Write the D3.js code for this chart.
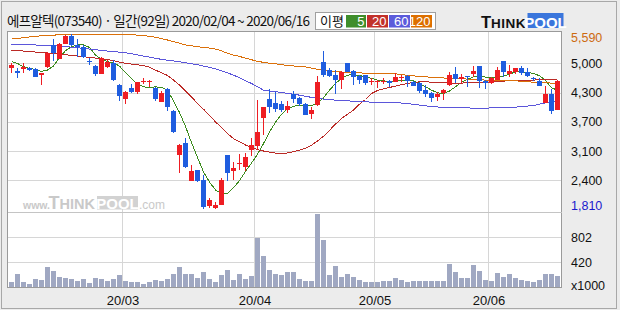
<!DOCTYPE html>
<html><head><meta charset="utf-8">
<script src="https://cdn.jsdelivr.net/npm/d3@7"></script>
<style>html,body{margin:0;padding:0;background:#ececec;}svg{display:block;}</style>
</head><body>
<svg id="c" width="620" height="310"></svg>
<script>
const dates = ["02-04","02-05","02-06","02-07","02-10","02-11","02-12","02-13","02-14","02-17","02-18","02-19","02-20","02-21","02-24","02-25","02-26","02-27","02-28",
"03-02","03-03","03-04","03-05","03-06","03-09","03-10","03-11","03-12","03-13","03-16","03-17","03-18","03-19","03-20","03-23","03-24","03-25","03-26","03-27","03-30","03-31",
"04-01","04-02","04-03","04-06","04-07","04-08","04-09","04-10","04-13","04-14","04-16","04-17","04-20","04-21","04-22","04-23","04-24","04-27","04-28","04-29",
"05-04","05-06","05-07","05-08","05-11","05-12","05-13","05-14","05-15","05-18","05-19","05-20","05-21","05-22","05-25","05-26","05-27","05-28","05-29",
"06-01","06-02","06-03","06-04","06-05","06-08","06-09","06-10","06-11","06-12","06-15","06-16"];
const open  = [4850,4790,4840,4860,4830,4710,4890,5360,5050,5380,5550,5360,5320,5020,4900,4740,4890,4970,4490,4190,4440,4340,4570,4570,4440,4130,4400,3940,2980,3240,2420,2650,2440,1880,1830,1910,2980,2640,2800,2730,3100,3170,3790,4200,4110,4080,3950,4300,4210,4080,3860,4060,4990,4820,4710,4600,4960,4800,4690,4700,4550,4550,4560,4580,4560,4640,4690,4560,4530,4380,4330,4240,4330,4490,4730,4630,4680,4740,4900,4590,4530,4610,5010,4740,4780,4860,4780,4640,4580,4110,4300,3950];
const high  = [4970,4870,4960,4890,4850,4760,5210,5480,5390,5570,5590,5480,5360,5070,4920,5100,5030,5030,4510,4360,4510,4560,4640,4600,4460,4360,4420,3950,3230,3340,2760,2670,2550,2060,1965,2480,2980,2830,3010,3030,3360,4170,4020,4400,4350,4150,4150,4360,4240,4100,4020,4690,5230,4870,4820,4790,4970,4820,4710,4720,4640,4610,4640,4600,4760,4720,4710,4590,4560,4490,4350,4350,4400,4770,4890,4730,4690,4900,4900,4610,4670,4890,5010,4920,4870,4900,4860,4670,4640,4470,4400,4600];
const low   = [4760,4640,4760,4790,4660,4500,4850,5020,5050,5380,5340,5090,5070,4920,4690,4730,4870,4590,4150,4080,4330,4310,4510,4460,4140,4120,3930,3450,2600,2710,2420,2400,1820,1850,1810,1900,2420,2450,2670,2640,2960,3090,3420,3890,3910,3920,3890,4110,4050,3840,3770,4040,4670,4660,4310,4410,4770,4490,4510,4500,4490,4440,4510,4460,4550,4560,4460,4470,4330,4240,4130,4150,4170,4470,4540,4530,4460,4670,4440,4410,4510,4600,4670,4670,4740,4710,4670,4590,4470,4100,3860,3950];
const close = [4930,4760,4880,4820,4670,4760,5190,5180,5380,5560,5360,5320,5100,5000,4730,5080,5000,4610,4260,4350,4340,4550,4580,4580,4190,4330,4020,3480,3190,2730,2630,2420,1860,2010,1900,2440,2600,2700,2820,2940,3190,3480,4010,4020,3970,3950,4050,4200,4080,3850,3950,4560,4710,4690,4600,4780,4780,4670,4600,4540,4570,4570,4580,4540,4660,4660,4590,4470,4360,4300,4220,4310,4380,4710,4620,4660,4660,4790,4590,4530,4640,4820,4770,4790,4870,4760,4690,4620,4480,4300,3940,4580];
const volume = [124,246,124,94,165,155,348,287,196,180,170,140,165,109,180,160,129,165,226,140,124,124,94,124,150,140,165,246,348,246,246,180,272,165,119,226,303,150,241,165,211,791,516,303,246,231,272,277,165,140,140,1158,761,226,364,196,246,196,150,119,119,119,140,140,180,150,119,134,134,134,134,134,134,394,272,180,180,379,287,150,134,257,196,241,180,150,134,119,150,241,241,211];
const ma5   = [5000,4960,4888,4852,4830,4787,4816,4902,5090,5234,5321,5357,5357,5306,5140,5047,4996,4974,4902,4758,4636,4513,4455,4441,4455,4441,4383,4150,3900,3600,3250,2930,2620,2400,2230,2150,2150,2280,2430,2630,2810,3000,3230,3480,3690,3860,3980,4037,4052,4052,4052,4095,4217,4383,4527,4636,4708,4715,4700,4672,4636,4600,4585,4570,4585,4592,4600,4585,4527,4455,4383,4326,4311,4365,4455,4549,4614,4670,4686,4665,4655,4672,4686,4725,4780,4780,4765,4744,4693,4600,4430,4385];
const ma20  = [5248,5237,5227,5216,5205,5194,5184,5173,5162,5148,5133,5119,5104,5090,5076,5061,5047,5018,4989,4960,4945,4931,4910,4881,4816,4758,4700,4600,4491,4362,4239,4095,3972,3842,3698,3576,3446,3338,3270,3200,3150,3100,3070,3045,3025,3013,3028,3056,3085,3129,3194,3287,3388,3518,3648,3770,3864,3951,4080,4181,4311,4376,4412,4441,4470,4499,4527,4549,4563,4563,4556,4549,4542,4535,4527,4535,4542,4542,4549,4549,4556,4563,4578,4585,4592,4592,4600,4600,4607,4614,4614,4600];
const ma60  = [5378,5373,5368,5362,5357,5352,5346,5340,5335,5322,5310,5297,5284,5270,5255,5241,5227,5215,5203,5191,5167,5143,5119,5095,5071,5047,5030,5013,4996,4975,4953,4931,4902,4874,4845,4800,4754,4708,4648,4588,4527,4455,4383,4366,4350,4333,4314,4294,4275,4251,4227,4203,4191,4179,4167,4160,4152,4145,4138,4131,4124,4124,4124,4124,4114,4105,4095,4078,4061,4044,4032,4020,4008,4006,4003,4001,3999,3996,3994,3996,3999,4001,4006,4011,4016,4028,4040,4052,4080,4109,4131,4153];
const ma120 = [5486,5500,5515,5530,5545,5555,5560,5570,5578,5582,5585,5587,5587,5587,5587,5587,5587,5587,5587,5587,5580,5570,5560,5545,5525,5495,5465,5430,5395,5360,5340,5320,5305,5290,5270,5230,5180,5140,5110,5075,5040,5000,4985,4965,4950,4935,4915,4905,4895,4885,4860,4830,4815,4800,4787,4775,4765,4760,4755,4750,4745,4744,4740,4738,4736,4720,4700,4690,4680,4672,4660,4650,4645,4640,4636,4630,4621,4615,4608,4600,4596,4592,4590,4588,4585,4575,4563,4556,4549,4542,4535,4527];
const priceMax = 5590, priceMin = 1810;
const priceGrid = [4960,4330,3700,3070,2440];
const priceGridLabels = ["5,000","4,300","3,700","3,100","2,400"];
const volGrid = [802,420];
const volGridLabels = ["802","420"];
const monthTicks = ["03-02","04-01","05-04","06-01"];
const monthLabels = ["20/03","20/04","20/05","20/06"];
const maNames = ["5","20","60","120"];
const title = "에프알텍(073540) · 일간(92일) 2020/02/04 ~ 2020/06/16";

const svg = d3.select("#c");
const UP="#ee1d23", DN="#1f5ddf", GRID="#d6d6d6";
const maColors=["#3b8b1d","#bb2a26","#5b56da","#db700a"];
const legColors=["#3f8e2b","#c2312b","#5b5bdb","#dd6f00"];
const F="'Liberation Sans', Arial, sans-serif";

svg.append("rect").attr("width",620).attr("height",310).attr("fill","#ececec");
svg.append("rect").attr("x",1.5).attr("y",1.5).attr("width",615).attr("height",307).attr("fill","none").attr("stroke","#a8a8a8");

const L=7.5,R=561.5,T=31.5,B=287.5,SEP=212.5;
svg.append("rect").attr("x",L).attr("y",T).attr("width",R-L).attr("height",B-T).attr("fill","#fff").attr("stroke","#9a9a9a");

const x = d3.scaleBand().domain(dates).range([9,561]).paddingInner(0).paddingOuter(0);
const y = d3.scaleLinear().domain([priceMin,priceMax]).range([209.4,34.2]);
const yv = d3.scaleLinear().domain([0,1184]).range([289.8,212.5]);
const bw = x.bandwidth()-1;

// grids
const g = svg.append("g").attr("stroke",GRID).attr("shape-rendering","crispEdges");
priceGrid.forEach(v=>{const yy=Math.round(y(v))+0.5; g.append("line").attr("x1",L+0.5).attr("x2",R-0.5).attr("y1",yy).attr("y2",yy);});
volGrid.forEach(v=>{const yy=Math.round(yv(v))+0.5; g.append("line").attr("x1",L+0.5).attr("x2",R-0.5).attr("y1",yy).attr("y2",yy);});
monthTicks.forEach(d=>{const xx=x(d)-0.5; g.append("line").attr("x1",xx).attr("x2",xx).attr("y1",T+0.5).attr("y2",B-0.5);});
svg.append("line").attr("x1",L).attr("x2",R).attr("y1",SEP).attr("y2",SEP).attr("stroke","#c4c4c4").attr("shape-rendering","crispEdges");

// watermark
const wm = svg.append("g").attr("fill","#c9c9c9").attr("font-family",F);
wm.append("text").attr("x",23).attr("y",209).attr("font-size",10.5).attr("font-weight","bold").text("www.");
const wt = wm.append("text").attr("x",48.5).attr("y",209).attr("font-weight","bold");
wt.append("tspan").attr("font-size",18).text("T");
wt.append("tspan").attr("font-size",14.5).text("HINK");
wm.append("rect").attr("x",97).attr("y",196).attr("width",41).attr("height",13.5).attr("fill","#d2d2d2");
wm.append("text").attr("x",117.5).attr("y",208.5).attr("text-anchor","middle").attr("font-size",15).attr("font-weight","bold").attr("fill","#fff").text("POOL");
wm.append("text").attr("x",139).attr("y",209).attr("font-size",12).text(".com");

// clip
svg.append("clipPath").attr("id","cp").append("rect").attr("x",8).attr("y",32).attr("width",553).attr("height",180);
const pg = svg.append("g").attr("clip-path","url(#cp)");

// moving averages
const idx = d3.range(dates.length);
[ma5,ma20,ma60,ma120].forEach((arr,k)=>{
  const line = d3.line().x(i=>x(dates[i])+2.5).y(i=>y(arr[i]));
  pg.append("path").attr("d",line(idx)).attr("fill","none").attr("stroke",maColors[k]).attr("stroke-width",1).attr("shape-rendering","crispEdges");
});

// candles
const cg = pg.append("g").attr("shape-rendering","crispEdges");
idx.forEach(i=>{
  const up = close[i]>=open[i];
  const col = up?UP:DN;
  const xl = x(dates[i]);
  const yh = Math.round(y(high[i])), yl = Math.round(y(low[i]));
  cg.append("rect").attr("x",xl+2).attr("y",yh).attr("width",1).attr("height",Math.max(1,yl-yh)).attr("fill",col);
  const yt = Math.round(y(Math.max(open[i],close[i]))), yb = Math.round(y(Math.min(open[i],close[i])));
  cg.append("rect").attr("x",xl).attr("y",yt).attr("width",bw).attr("height",Math.max(1,yb-yt)).attr("fill",col);
});

// volume
const vg = svg.append("g").attr("shape-rendering","crispEdges");
idx.forEach(i=>{
  const yy = Math.round(yv(volume[i]));
  vg.append("rect").attr("x",x(dates[i])).attr("y",yy).attr("width",bw).attr("height",287-yy).attr("fill","#a0a8c2");
});

// right labels
const lab = svg.append("g").attr("font-family",F).attr("font-size",12.5).attr("dominant-baseline","central");
lab.append("text").attr("x",571).attr("y",y(priceMax)+3.5).attr("fill","#cc6a10").text(d3.format(",")(priceMax));
priceGrid.forEach((v,k)=>lab.append("text").attr("x",571).attr("y",y(v)+0.5).attr("fill","#111").text(priceGridLabels[k]));
lab.append("text").attr("x",571).attr("y",y(priceMin)-3.4).attr("fill","#1a1acc").text(d3.format(",")(priceMin));
volGrid.forEach((v,k)=>lab.append("text").attr("x",571).attr("y",yv(v)+0.5).attr("fill","#111").text(volGridLabels[k]));
lab.append("text").attr("x",571).attr("y",286).attr("fill","#111").text("x1000");

// x labels
const xlab = svg.append("g").attr("font-family",F).attr("font-size",13).attr("fill","#111").attr("text-anchor","middle");
monthTicks.forEach((d,k)=>xlab.append("text").attr("x",x(d)).attr("y",305).text(monthLabels[k]));

// title
svg.append("text").attr("x",7).attr("y",26).attr("font-family","'Noto Sans CJK KR', sans-serif").attr("font-size",13.5).attr("fill","#111").attr("textLength",303).text(title);

// legend
const lg = svg.append("g");
lg.append("rect").attr("x",315.5).attr("y",12.5).attr("width",120).attr("height",17).attr("fill","#fff").attr("stroke","#a0a0a0");
lg.append("text").attr("x",320).attr("y",26).attr("font-family","'Noto Sans CJK KR', sans-serif").attr("font-size",13).attr("fill","#111").text("이평");
const bx=[346,367,389,411], bwid=[20,21,21,21];
maNames.forEach((n,k)=>{
  lg.append("rect").attr("x",bx[k]).attr("y",15).attr("width",bwid[k]).attr("height",12.5).attr("fill",legColors[k]);
  lg.append("text").attr("x",bx[k]+bwid[k]-1.5).attr("y",25.8).attr("text-anchor","end").attr("font-family",F).attr("font-size",13).attr("fill","#fff").text(n);
});

// logo
const lo = svg.append("g").attr("font-family",F).attr("font-weight","bold");
const lt = lo.append("text").attr("x",481).attr("y",28).attr("fill","#111");
lt.append("tspan").attr("font-size",16.5).text("T");
lt.append("tspan").attr("font-size",13.5).attr("letter-spacing",0.5).text("HINK");
lo.append("rect").attr("x",527.5).attr("y",13).attr("width",36).attr("height",15).attr("fill","#3b76dc");
lo.append("text").attr("x",545.5).attr("y",27.5).attr("text-anchor","middle").attr("font-size",15).attr("fill","#fff").text("POOL");
</script>
</body></html>
